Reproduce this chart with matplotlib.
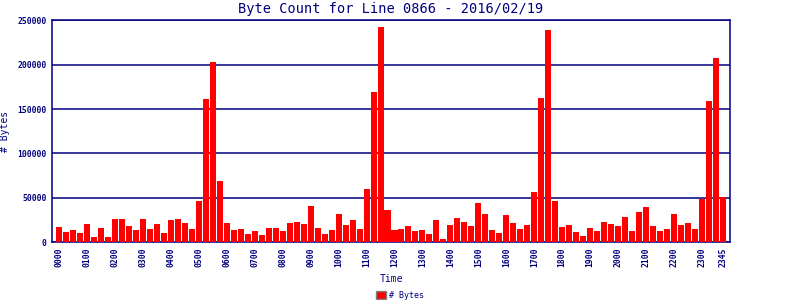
import matplotlib
matplotlib.use("Agg")
import matplotlib.pyplot as plt
from matplotlib.patches import Patch

# byte counts, one per 15 minutes
times = ["%02d%02d" % (h, m) for h in range(24) for m in (0, 15, 30, 45)]
byte_counts = [
    17200, 11600, 13900, 10500, 20600, 6000, 16100, 6000,
    26200, 26200, 18400, 13900, 26200, 15000, 20600, 10500,
    25100, 26200, 21700, 15000, 46400, 161400, 203200, 68900,
    21700, 13900, 15000, 9400, 12700, 8200, 16100, 16100,
    12700, 21700, 22800, 20600, 40800, 16100, 9400, 13900,
    31800, 19500, 25100, 15000, 59900, 169300, 242700, 36300,
    13900, 15000, 18400, 12700, 13900, 9400, 25100, 3700,
    19500, 27300, 22800, 18400, 44200, 31800, 13900, 10500,
    30700, 21700, 15000, 19500, 56600, 162500, 239300, 46400,
    17200, 19500, 11600, 7100, 16100, 12700, 22800, 20600,
    18400, 28500, 12700, 34100, 39700, 18400, 12700, 15000,
    31800, 19500, 21700, 15000, 48700, 159100, 207700, 50900,
]
tick_labels = ["%02d00" % h for h in range(24)] + ["2345"]

navy = "#000080"
red = "#ff0000"
mono = "DejaVu Sans Mono"

fig = plt.figure(figsize=(8, 3), dpi=100)
ax = fig.add_axes([0.065, 0.193, 0.8475, 0.739])

x = list(range(len(times)))
ax.bar(x, byte_counts, width=0.86, color=red, zorder=3)

ax.set_xlim(-1, 96)
ax.set_ylim(0, 250000)
ax.set_yticks([0, 50000, 100000, 150000, 200000, 250000])
ax.set_yticklabels(["0", "50000", "100000", "150000", "200000", "250000"])
tick_pos = [i * 4 for i in range(24)] + [95]
ax.set_xticks(tick_pos)
ax.set_xticklabels(tick_labels, rotation=90)

for lab in ax.get_xticklabels() + ax.get_yticklabels():
    lab.set_fontfamily(mono)
    lab.set_fontsize(5.8)
    lab.set_fontweight("bold")
    lab.set_color(navy)
ax.tick_params(length=0, pad=4)

ax.yaxis.grid(True, color=navy, linewidth=1.1, zorder=1)
for s in ax.spines.values():
    s.set_color(navy)
    s.set_linewidth(1.1)

ax.set_title("Byte Count for Line 0866 - 2016/02/19", fontfamily=mono,
             fontsize=9.8, color=navy, pad=5)
ax.set_xlabel("Time", fontfamily=mono, fontsize=7, color=navy, labelpad=5)
ax.set_ylabel("# Bytes", fontfamily=mono, fontsize=7, color=navy)
ax.yaxis.set_label_coords(-0.062, 0.5)

fig.legend(handles=[Patch(facecolor=red, edgecolor="gray", label="# Bytes")],
           loc="lower center", bbox_to_anchor=(0.5, -0.025), frameon=False,
           prop={"family": mono, "size": 6}, handlelength=1.2, handleheight=1.0,
           handletextpad=0.4, labelcolor=navy)

fig.savefig("out.png", dpi=100, facecolor="white")
